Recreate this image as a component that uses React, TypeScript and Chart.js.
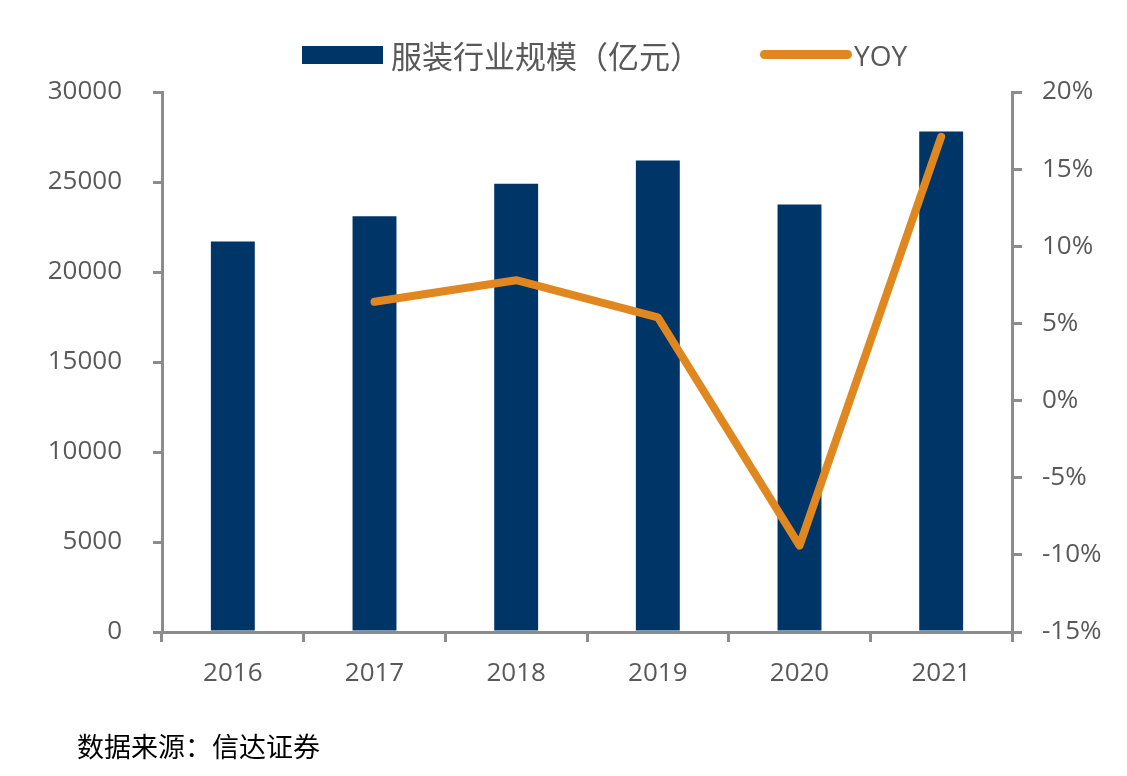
import React, { useEffect, useRef } from 'react';
import { Chart, registerables } from 'chart.js';

Chart.register(...registerables);

const categories = ['2016', '2017', '2018', '2019', '2020', '2021'];
const scaleValues = [21700, 23100, 24900, 26200, 23750, 27800];
const yoyValues: (number | null)[] = [null, 6.4, 7.8, 5.4, -9.4, 17.1];
const barLabel = '服装行业规模（亿元）';
const lineLabel = 'YOY';
const sourceText = '数据来源：信达证券';

const BAR_COLOR = '#003567';
const LINE_COLOR = '#E0881F';
const AXIS_COLOR = '#8C8C8C';
const TEXT_COLOR = '#595959';
const FONT = '"Open Sans", "Noto Sans", sans-serif';
const CJK_FONT = '"Noto Sans CJK SC", "Noto Sans", sans-serif';

export default function App() {
  const canvasRef = useRef<HTMLCanvasElement | null>(null);

  useEffect(() => {
    document.body.style.margin = '0';
    const canvas = canvasRef.current;
    if (!canvas) return;
    const tickFont = { family: FONT, size: 26 };
    const chart = new Chart(canvas, {
      type: 'bar',
      data: {
        labels: categories,
        datasets: [
          {
            type: 'line',
            label: lineLabel,
            data: yoyValues,
            yAxisID: 'y1',
            borderColor: LINE_COLOR,
            backgroundColor: LINE_COLOR,
            borderWidth: 8,
            borderCapStyle: 'round',
            borderJoinStyle: 'round',
            pointRadius: 0,
            tension: 0,
            order: 0,
          } as any,
          {
            type: 'bar',
            label: barLabel,
            data: scaleValues,
            yAxisID: 'y',
            backgroundColor: BAR_COLOR,
            categoryPercentage: 1,
            barPercentage: 0.31,
            order: 1,
          } as any,
        ],
      },
      options: {
        responsive: false,
        animation: false,
        devicePixelRatio: 1,
        layout: { padding: { top: 92, left: 0, right: 0, bottom: 0 } },
        plugins: { legend: { display: false }, tooltip: { enabled: false } },
        scales: {
          x: {
            offset: true,
            grid: {
              offset: true,
              drawOnChartArea: false,
              drawTicks: true,
              tickLength: 10,
              color: AXIS_COLOR,
              lineWidth: 3,
            },
            border: { display: true, color: AXIS_COLOR, width: 3 },
            ticks: { font: tickFont, color: TEXT_COLOR, padding: 16 },
            afterFit: (s: any) => {
              s.height = 144;
            },
          },
          y: {
            position: 'left',
            min: 0,
            max: 30000,
            ticks: {
              stepSize: 5000,
              font: tickFont,
              color: TEXT_COLOR,
              padding: 31,
              callback: (v: any) => String(v),
            },
            grid: {
              drawOnChartArea: false,
              drawTicks: true,
              tickLength: 9,
              color: AXIS_COLOR,
              lineWidth: 3,
            },
            border: { display: true, color: AXIS_COLOR, width: 3 },
            afterFit: (s: any) => {
              s.width = 162;
            },
          },
          y1: {
            position: 'right',
            min: -15,
            max: 20,
            ticks: {
              stepSize: 5,
              font: tickFont,
              color: TEXT_COLOR,
              padding: 20,
              callback: (v: any) => `${v}%`,
            },
            grid: {
              drawOnChartArea: false,
              drawTicks: true,
              tickLength: 10,
              color: AXIS_COLOR,
              lineWidth: 3,
            },
            border: { display: true, color: AXIS_COLOR, width: 3 },
            afterFit: (s: any) => {
              s.width = 115;
            },
          },
        },
      } as any,
    });
    return () => chart.destroy();
  }, []);

  return (
    <div style={{ position: 'relative', width: 1127, height: 776, background: '#fff', overflow: 'hidden' }}>
      <canvas ref={canvasRef} width={1127} height={776} style={{ position: 'absolute', left: 0, top: 0, width: 1127, height: 776 }} />
      <div style={{ position: 'absolute', left: 302, top: 46, width: 81, height: 18, background: BAR_COLOR }} />
      <div
        style={{
          position: 'absolute',
          left: 391,
          top: 39,
          height: 32,
          lineHeight: '32px',
          fontFamily: CJK_FONT,
          fontSize: 31,
          color: TEXT_COLOR,
          whiteSpace: 'nowrap',
        }}
      >
        {barLabel}
      </div>
      <div style={{ position: 'absolute', left: 760, top: 50, width: 92, height: 9, borderRadius: 5, background: LINE_COLOR }} />
      <div
        style={{
          position: 'absolute',
          left: 854,
          top: 39,
          height: 32,
          lineHeight: '32px',
          fontFamily: FONT,
          fontSize: 28,
          color: TEXT_COLOR,
          whiteSpace: 'nowrap',
        }}
      >
        {lineLabel}
      </div>
      <div
        style={{
          position: 'absolute',
          left: 77,
          top: 731,
          lineHeight: '30px',
          fontFamily: CJK_FONT,
          fontSize: 27,
          color: '#000',
          whiteSpace: 'nowrap',
        }}
      >
        {sourceText}
      </div>
    </div>
  );
}
